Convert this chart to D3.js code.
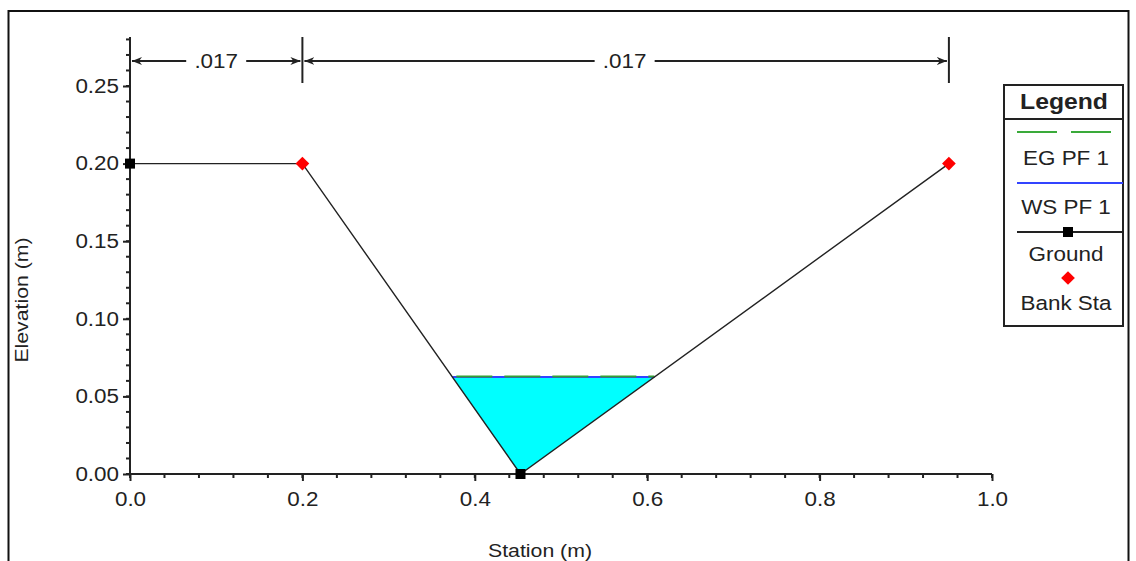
<!DOCTYPE html>
<html>
<head>
<meta charset="utf-8">
<script src="https://cdn.jsdelivr.net/npm/d3@7"></script>
<style>
  body { margin: 0; background: #fff; }
  text { font-family: "Liberation Sans", Arial, sans-serif; fill: #222; }
</style>
</head>
<body>
<div id="chart"></div>
<script>
var groundSta = [0, 0.2, 0.453, 0.95];
var groundElev = [0.2, 0.2, 0, 0.2];
var bankSta = [0.2, 0.95];
var bankElev = [0.2, 0.2];
var wsElev = 0.0625;
var egElev = 0.0628;
var nBreaks = [0, 0.2, 0.95];
var nLabels = [".017", ".017"];
var xTicks = [0, 0.2, 0.4, 0.6, 0.8, 1.0];
var yTicks = [0, 0.05, 0.10, 0.15, 0.20, 0.25];
var legendNames = ["EG PF 1", "WS PF 1", "Ground", "Bank Sta"];

var svgWidth = 1136;
var svgHeight = 561;
var sx = 1.15; // the screenshot text is a bit wide

var svg = d3.select("#chart")
  .append("svg")
  .attr("width", svgWidth)
  .attr("height", svgHeight);

// outer frame
svg.append("rect")
  .attr("x", 8.5).attr("y", 11)
  .attr("width", 1120).attr("height", 600)
  .attr("fill", "none").attr("stroke", "#111").attr("stroke-width", 2);

var x = d3.scaleLinear().domain([0, 1]).range([130, 992]);
var y = d3.scaleLinear().domain([0, 0.25]).range([474, 86]);
var yTop = 37;

// stretch text horizontally
function stretch(sel) {
  sel.each(function () {
    var t = d3.select(this);
    var tx = +t.attr("x") || 0;
    t.attr("x", tx / sx).attr("transform", "scale(" + sx + ",1)");
  });
}

// minor ticks
svg.append("g").selectAll("line")
  .data(d3.range(0, 1.0001, 0.04))
  .enter().append("line")
  .attr("x1", d => x(d)).attr("x2", d => x(d))
  .attr("y1", y(0)).attr("y2", y(0) + 4)
  .attr("stroke", "#222").attr("stroke-width", 2);

svg.append("g").selectAll("line")
  .data(d3.range(0, 0.2801, 0.01))
  .enter().append("line")
  .attr("x1", x(0) - 4).attr("x2", x(0))
  .attr("y1", d => y(d)).attr("y2", d => y(d))
  .attr("stroke", "#222").attr("stroke-width", 2);

// axes
var xAxis = svg.append("g")
  .attr("transform", `translate(0, ${y(0)})`)
  .call(d3.axisBottom(x).tickValues(xTicks).tickFormat(d3.format(".1f")).tickSize(7).tickSizeOuter(0));

var yAxis = svg.append("g")
  .attr("transform", `translate(${x(0)}, 0)`)
  .call(d3.axisLeft(y).tickValues(yTicks).tickFormat(d3.format(".2f")).tickSize(7).tickSizeOuter(0));

[xAxis, yAxis].forEach(function (a) {
  a.select(".domain").remove();
  a.selectAll("line").attr("stroke", "#222").attr("stroke-width", 2);
  a.selectAll("text").attr("font-size", "19.5px").attr("fill", "#2a2a3a")
    .style("font-family", "'Liberation Sans', Arial, sans-serif");
});
xAxis.selectAll("text").attr("y", 18);
yAxis.selectAll("text").attr("x", -11);
stretch(xAxis.selectAll("text"));
stretch(yAxis.selectAll("text"));

// axis lines
svg.append("line")
  .attr("x1", x(0)).attr("x2", x(1))
  .attr("y1", y(0)).attr("y2", y(0))
  .attr("stroke", "#222").attr("stroke-width", 2);
svg.append("line")
  .attr("x1", x(0)).attr("x2", x(0))
  .attr("y1", y(0)).attr("y2", yTop)
  .attr("stroke", "#222").attr("stroke-width", 2);

// axis titles
var xt = svg.append("text")
  .attr("x", 540).attr("y", 557)
  .attr("text-anchor", "middle")
  .attr("font-size", "18.5px")
  .text("Station (m)");
stretch(xt);

svg.append("text")
  .attr("transform", "translate(28, 300) rotate(-90) scale(1.15,1)")
  .attr("text-anchor", "middle")
  .attr("font-size", "18.5px")
  .text("Elevation (m)");

// roughness dimension lines
var dimY = 61;
var defs = svg.append("defs");
defs.append("marker")
  .attr("id", "arr")
  .attr("viewBox", "0 0 10 10")
  .attr("refX", 10).attr("refY", 5)
  .attr("markerWidth", 10).attr("markerHeight", 10)
  .attr("markerUnits", "userSpaceOnUse")
  .attr("orient", "auto-start-reverse")
  .append("path").attr("d", "M0,1 L10,5 L0,9 L3,5 Z").attr("fill", "#222");

nBreaks.slice(1).forEach(function (d) {
  svg.append("line")
    .attr("x1", x(d)).attr("x2", x(d))
    .attr("y1", yTop).attr("y2", 83)
    .attr("stroke", "#222").attr("stroke-width", 2);
});

nLabels.forEach(function (lab, i) {
  var x0 = x(nBreaks[i]) + 2, x1 = x(nBreaks[i + 1]) - 2;
  var mid = (x(nBreaks[i]) + x(nBreaks[i + 1])) / 2 - (i == 1 ? 1 : 0);
  svg.append("line")
    .attr("x1", x0).attr("x2", x1)
    .attr("y1", dimY).attr("y2", dimY)
    .attr("stroke", "#222").attr("stroke-width", 2)
    .attr("marker-start", "url(#arr)")
    .attr("marker-end", "url(#arr)");
  svg.append("rect")
    .attr("x", mid - 30).attr("y", dimY - 10)
    .attr("width", 60).attr("height", 20)
    .attr("fill", "#fff");
  var t = svg.append("text")
    .attr("x", mid).attr("y", dimY + 7)
    .attr("text-anchor", "middle")
    .attr("font-size", "19.5px")
    .attr("fill", "#2a2a3a")
    .text(lab);
  stretch(t);
});

// water polygon between ground and water surface
function groundAt(e, side) {
  // side: 0 = left bank, 1 = right bank of the low point
  var iMin = groundElev.indexOf(d3.min(groundElev));
  if (side == 0) {
    for (var i = iMin; i > 0; i--) {
      if (groundElev[i - 1] >= e) {
        var f = (e - groundElev[i]) / (groundElev[i - 1] - groundElev[i]);
        return groundSta[i] + f * (groundSta[i - 1] - groundSta[i]);
      }
    }
  } else {
    for (var j = iMin; j < groundSta.length - 1; j++) {
      if (groundElev[j + 1] >= e) {
        var g = (e - groundElev[j]) / (groundElev[j + 1] - groundElev[j]);
        return groundSta[j] + g * (groundSta[j + 1] - groundSta[j]);
      }
    }
  }
}
var wsL = groundAt(wsElev, 0), wsR = groundAt(wsElev, 1);
var waterPts = [[wsL, wsElev]];
groundSta.forEach(function (s, i) {
  if (s > wsL && s < wsR) waterPts.push([s, groundElev[i]]);
});
waterPts.push([wsR, wsElev]);

svg.append("path")
  .datum(waterPts)
  .attr("d", d3.line().x(d => x(d[0])).y(d => y(d[1])))
  .attr("fill", "#00ffff").attr("stroke", "none");

// water surface and energy grade
svg.append("line")
  .attr("x1", x(wsL)).attr("x2", x(wsR))
  .attr("y1", y(wsElev)).attr("y2", y(wsElev))
  .attr("stroke", "#3344ff").attr("stroke-width", 2);
svg.append("line")
  .attr("x1", x(wsL)).attr("x2", x(wsR))
  .attr("y1", y(egElev)).attr("y2", y(egElev))
  .attr("stroke", "#33a033").attr("stroke-width", 2)
  .attr("stroke-dasharray", "36,12").attr("stroke-dashoffset", -4);

// ground line
svg.append("path")
  .datum(groundSta.map((s, i) => [s, groundElev[i]]))
  .attr("d", d3.line().x(d => x(d[0])).y(d => y(d[1])))
  .attr("fill", "none").attr("stroke", "#222").attr("stroke-width", 1.4);

svg.append("g").selectAll("rect")
  .data(groundSta.map((s, i) => [s, groundElev[i]]).filter(d => bankSta.indexOf(d[0]) < 0))
  .enter().append("rect")
  .attr("x", d => x(d[0]) - 5).attr("y", d => y(d[1]) - 5)
  .attr("width", 10).attr("height", 10)
  .attr("fill", "#000");

var diamond = d3.symbol().type(d3.symbolDiamond2).size(120);
svg.append("g").selectAll("path")
  .data(bankSta.map((s, i) => [s, bankElev[i]]))
  .enter().append("path")
  .attr("transform", d => `translate(${x(d[0])}, ${y(d[1])})`)
  .attr("d", diamond)
  .attr("fill", "#ff0000");

// legend
var lg = svg.append("g").attr("transform", "translate(1004, 85)");
lg.append("rect")
  .attr("x", 0).attr("y", 0).attr("width", 119).attr("height", 241)
  .attr("fill", "#fff").attr("stroke", "#222").attr("stroke-width", 2);
lg.append("line")
  .attr("x1", 0).attr("x2", 119).attr("y1", 34).attr("y2", 34)
  .attr("stroke", "#222").attr("stroke-width", 2);
var lt = lg.append("text")
  .attr("x", 60).attr("y", 24)
  .attr("text-anchor", "middle")
  .attr("font-size", "21.5px").attr("font-weight", "bold")
  .attr("fill", "#1a1a2a")
  .text("Legend");
stretch(lt);

var symY = [47, 98, 147, 193];
var labY = [80, 129, 176, 225];
lg.append("line")
  .attr("x1", 13).attr("x2", 108).attr("y1", symY[0]).attr("y2", symY[0])
  .attr("stroke", "#3aaa3a").attr("stroke-width", 2).attr("stroke-dasharray", "40,14");
lg.append("line")
  .attr("x1", 13).attr("x2", 119).attr("y1", symY[1]).attr("y2", symY[1])
  .attr("stroke", "#3344ff").attr("stroke-width", 2);
lg.append("line")
  .attr("x1", 13).attr("x2", 119).attr("y1", symY[2]).attr("y2", symY[2])
  .attr("stroke", "#222").attr("stroke-width", 2);
lg.append("rect")
  .attr("x", 64 - 5).attr("y", symY[2] - 5).attr("width", 10).attr("height", 10)
  .attr("fill", "#000");
lg.append("path")
  .attr("transform", `translate(64, ${symY[3]})`)
  .attr("d", diamond)
  .attr("fill", "#ff0000");

legendNames.forEach(function (n, i) {
  var t = lg.append("text")
    .attr("x", 62).attr("y", labY[i])
    .attr("text-anchor", "middle")
    .attr("font-size", "19.5px")
    .attr("fill", "#2a2a3a")
    .text(n);
  stretch(t);
});
</script>
</body>
</html>
